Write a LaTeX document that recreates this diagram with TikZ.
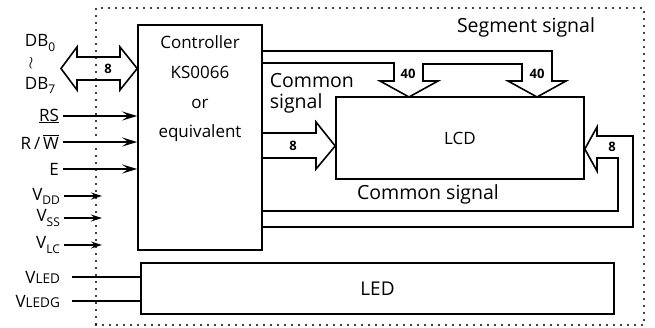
\documentclass[tikz,border=0pt]{standalone}
\usepackage{fontspec}
\setmainfont{Open Sans}
\usetikzlibrary{arrows.meta}
\newcommand{\lowidx}[1]{\raisebox{-.45ex}{\fontsize{12}{12}\selectfont #1}}
\newcommand{\smcap}[1]{{\fontsize{13.5}{13.5}\selectfont #1}}

\begin{document}
\begin{tikzpicture}[x=1pt,y=-1pt,line width=1.6pt,
    font=\fontsize{17}{20}\selectfont,
    box/.style={draw,rectangle,inner sep=0pt},
    busnum/.style={font=\fontsize{13}{13}\selectfont\bfseries},
    siglbl/.style={font=\fontsize{19.5}{21}\selectfont},
    sig/.style={-{Stealth[length=15pt,width=9pt,inset=6pt]}},
    pwr/.style={-{Stealth[length=11pt,width=7pt,inset=4pt]}}]
  \useasboundingbox (0,0) rectangle (655,327);
  % frame and blocks
  \draw (370,166.5) node[box,line width=2.2pt,line cap=round,
    dash pattern=on 0pt off 7pt,minimum width=548pt,minimum height=317pt] (frame) {};
  \draw (200,137.5) node[box,minimum width=124pt,minimum height=225pt] (ctrl) {};
  \draw (200,89) node[align=center,font=\fontsize{17}{29.7}\selectfont] (ctrltxt)
    {Controller\\KS0066\\or\\equivalent};
  \draw (460,138) node[box,minimum width=248pt,minimum height=82pt] (lcd) {LCD};
  \draw (377.5,288.5) node[box,minimum width=473pt,minimum height=51pt,
    font=\fontsize{19}{20}\selectfont] (led) {LED};
  % data bus
  \draw (61,68.5) -- (77,47) -- (77,57) -- (120,57) -- (120,47) -- (ctrl.west |- 0,68.5)
    -- (120,90) -- (120,80) -- (77,80) -- (77,90) -- cycle;
  \draw (108,68.5) node[busnum] (nDB) {8};
  \draw (40,43) node (db0) {DB\lowidx{0}};
  \draw (31,63) node[inner sep=0pt] (dbto) {$\wr$};
  \draw (40,85) node (db7) {DB\lowidx{7}};
  % segment signal bus
  \draw (ctrl.east |- 0,51) -- (552,51) -- (552,81) -- (566,81) -- (537,97)
    -- (508,81) -- (522,81) -- (522,64) -- (423,64) -- (423,81) -- (438,81)
    -- (409,97) -- (380,81) -- (394,81) -- (394,63) -- (ctrl.east |- 0,63);
  \draw (408,74) node[busnum] (nSeg1) {40};
  \draw (537,74) node[busnum] (nSeg2) {40};
  \draw (526,27) node[siglbl] (seglbl) {Segment signal};
  % common signal buses
  \draw (ctrl.east |- 0,133) -- (316,133) -- (316,122) -- (lcd.west |- 0,146)
    -- (316,169) -- (316,158) -- (ctrl.east |- 0,158);
  \draw (293,146) node[busnum] (nCom1) {8};
  \draw (269,73) node[siglbl,anchor=north west,align=left,inner sep=0pt] (comlbl1)
    {Common\\signal};
  \draw (ctrl.east |- 0,227) -- (633,227) -- (633,136) -- (597,136) -- (597,127)
    -- (lcd.east |- 0,149) -- (597,171) -- (597,158) -- (618,158) -- (618,211)
    -- (ctrl.east |- 0,211);
  \draw (612,147) node[busnum] (nCom2) {8};
  \draw (428,194) node[siglbl] (comlbl2) {Common signal};
  % control inputs
  \draw (63,116) node[anchor=east] (rs) {\underline{RS}};
  \draw (63,142) node[anchor=east] (rw) {R\,/\,$\overline{\mbox{W}}$};
  \draw (63,169) node[anchor=east] (en) {E};
  \draw[sig] (rs.east) -- (rs.east -| ctrl.west);
  \draw[sig] (rw.east) -- (rw.east -| ctrl.west);
  \draw[sig] (en.east) -- (en.east -| ctrl.west);
  % power inputs
  \draw (64,196) node[anchor=east] (vdd) {V\lowidx{DD}};
  \draw (64,218) node[anchor=east] (vss) {V\lowidx{SS}};
  \draw (64,245) node[anchor=east] (vlc) {V\lowidx{LC}};
  \draw (64,277) node[anchor=east] (vled) {V\smcap{LED}};
  \draw (64,301) node[anchor=east] (vledg) {V\smcap{LEDG}};
  \draw[pwr] (vdd.east) -- ([xshift=7pt]vdd.east -| frame.west);
  \draw[pwr] (vss.east) -- ([xshift=7pt]vss.east -| frame.west);
  \draw[pwr] (vlc.east) -- ([xshift=7pt]vlc.east -| frame.west);
  \draw ([xshift=8pt]vled.east) -- (vled.east -| led.west);
  \draw ([xshift=8pt]vledg.east) -- (vledg.east -| led.west);
\end{tikzpicture}
\end{document}
